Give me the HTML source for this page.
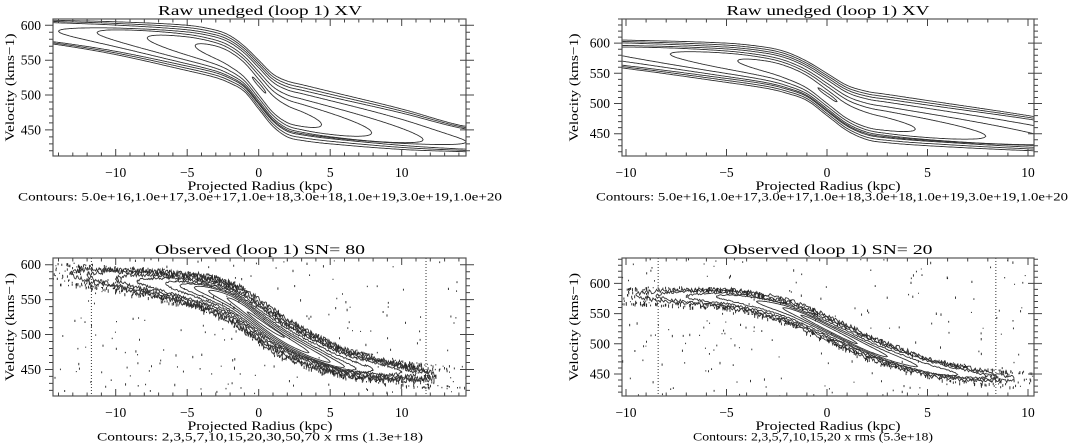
<!DOCTYPE html>
<html><head><meta charset="utf-8"><style>
html,body{margin:0;padding:0;background:#fff;}
svg{display:block;font-family:"Liberation Serif",serif;}
</style></head><body>
<svg id="fig" width="1070" height="443" viewBox="0 0 1070 443" xmlns="http://www.w3.org/2000/svg"></svg>
<script>
// ---- Raw model data (shared by both raw panels) ----
const rawX=[-16,-14,-10,-5,-3,-2,-1,0,1,2,3,5,10,14,16];
const rawV=[592,589.5,581.5,567.5,559,551,537.5,515,492.5,480,475,467.5,451,438,435];
const rawHW=[16,17.5,23.5,32.5,34,34,32.5,35,37.5,40,40,37.5,29,19,17];
const rawLevelF=[1.0,0.9,0.8,0.72,0.6,0.47,0.32,0.07];
const rawTipL=[-99,-99,-99,-14.0,-11.3,-7.8,-4.45,-0.45];
const rawTipR=[99,99,99,14.5,11.5,7.9,4.4,0.5];
const rawShiftL=[0,0,0,2,5,6,5,0];
const rawShiftR=[0,0,0,-4,-10,-12,-12,0];
// ---- Observed SN=80 ----
const obsLX=[-16,-14,-12,-10,-8,-6,-4,-3,-2,-1,0,1,2,3,4,6,8,10,12,14,16];
const obsLV=[590,588,585,580,575,569,561,555,547,535,520,506,494,484,475,460,452,446,441,439,438];
const obsLHW=[14,14,15,17,19,21,24,26,28,30,30,30,28,26,24,20,18,16,15,14,14];
const obsLF=[1,0.88,0.76,0.65,0.55,0.45,0.36,0.27,0.18,0.08];
const obsLTipL=[-13.2,-12,-10,-8.5,-6.5,-5.5,-4.5,-3.5,-2.2,-0.8];
const obsLTipR=[12.4,12,11,10,8,6.8,6,5,3.5,1.8];
const obsLShiftL=[0,0,0,0,2,3,4,4,3,0];
const obsLShiftR=[0,0,0,0,-3,-5,-6,-6,-5,0];
const obsLCut=[-11.7,11.7];
// ---- Observed SN=20 ----
const obsRX=[-11,-10,-9,-8,-7,-6,-5,-4,-3,-2,-1,0,1,2,3,4,5,6,7,8,9,10,11];
const obsRV=[581,580,580,579,578,577,575,570,563,554,541,526,511,496,483,472,462,455,450,446,443,441,440];
const obsRHW=[12,12,13,14,15,15,16,17,18,19,20,20,20,19,18,17,16,15,14,13,12,12,12];
const obsRF=[1,0.85,0.7,0.55,0.4,0.28,0.15];
const obsRTipL=[-9.5,-8.5,-7,-5.5,-3.5,-2.2,-1.3];
const obsRTipR=[9.3,8.5,8,6.5,4.5,3,1.5];
const obsRShiftL=[0,0,0,2,3,3,2];
const obsRShiftR=[0,0,0,-3,-4,-4,-3];
const obsRCut=[-8.4,8.4];
const xTickVals=[-10,-5,0,5,10];
const yTickVals=[450,500,550,600];

const NS="http://www.w3.org/2000/svg";
const svg=document.getElementById('fig');
function mk(tag,attrs,parent){const e=document.createElementNS(NS,tag);for(const k in attrs)e.setAttribute(k,attrs[k]);(parent||svg).appendChild(e);return e;}
let seed=12345;
function rnd(){seed=(seed*1103515245+12345)%2147483648;return seed/2147483648;}
// smooth cubic Hermite interpolation through data points
function interp(xs,vs,x){
  const n=xs.length;
  if(x<=xs[0])return vs[0];
  if(x>=xs[n-1])return vs[n-1];
  let i=1;while(x>xs[i])i++;
  const x0=xs[i-1],x1=xs[i],h=x1-x0,t=(x-x0)/h;
  const sl=k=>{if(k===0)return (vs[1]-vs[0])/(xs[1]-xs[0]);if(k===n-1)return (vs[n-1]-vs[n-2])/(xs[n-1]-xs[n-2]);return (vs[k+1]-vs[k-1])/(xs[k+1]-xs[k-1]);};
  const m0=sl(i-1)*h,m1=sl(i)*h;
  const t2=t*t,t3=t2*t;
  return (2*t3-3*t2+1)*vs[i-1]+(t3-2*t2+t)*m0+(-2*t3+3*t2)*vs[i]+(t3-t2)*m1;
}

function panel(cfg){
  const g=mk('g',{});
  
  
  const sx=x=>cfg.zx+x*cfg.kx;
  const sy=v=>cfg.y1-(v-cfg.vmin)/(cfg.vmax-cfg.vmin)*(cfg.y1-cfg.y0);
  const xmin=(cfg.x0-cfg.zx)/cfg.kx, xmax=(cfg.x1-cfg.zx)/cfg.kx;
  const cid='clip'+cfg.name;
  const cp=mk('clipPath',{id:cid},g);mk('rect',{x:cfg.x0,y:cfg.y0,width:cfg.x1-cfg.x0,height:cfg.y1-cfg.y0},cp);
  const plot=mk('g',{'clip-path':'url(#'+cid+')'},g);
  
  
  const X=cfg.X,V=cfg.V,HW=cfg.HW,jit=cfg.jitter||0;
  for(let i=0;i<cfg.F.length;i++){
    const f=cfg.F[i],tl=cfg.TL[i],tr=cfg.TR[i];
    const jscale=Math.max(0,1-i/(cfg.F.length*0.6));
    const jv=()=>jit?(rnd()-0.5)*jit*jscale:0;
    if(tl<-50){
      const a=Math.max(xmin-0.5,cfg.openL||-99),b=Math.min(xmax+0.5,cfg.openR||99);
      let up=[],lo=[];
      for(let x=a;x<=b;x+=0.08){up.push(sx(x).toFixed(1)+','+sy(interp(X,V,x)+f*interp(X,HW,x)+jv()).toFixed(1));lo.push(sx(x).toFixed(1)+','+sy(interp(X,V,x)-f*interp(X,HW,x)+jv()).toFixed(1));}
      const p1=mk('polyline',{points:up.join(' '),fill:'none',stroke:'#333','stroke-width':0.9},plot);
      
      
      const p2=mk('polyline',{points:lo.join(' '),fill:'none',stroke:'#333','stroke-width':0.9},plot);
      
      
    } else {
      const mid=(tl+tr)/2,half=(tr-tl)/2;let up=[],lo=[];
      const sL=cfg.SL[i],sR=cfg.SR[i];
      const n=Math.max(20,Math.round((tr-tl)/0.06));
      for(let k=0;k<=n;k++){const x=tl+(tr-tl)*k/n;const t=(x-mid)/half;const gg=Math.sqrt(Math.max(0,1-Math.pow(Math.abs(t),3)));
        const c=interp(X,V,x)+sL+(sR-sL)*k/n,w=f*interp(X,HW,x)*gg;
        up.push(sx(x).toFixed(1)+','+sy(c+w+jv()).toFixed(1));lo.unshift(sx(x).toFixed(1)+','+sy(c-w+jv()).toFixed(1));}
      const p=mk('polygon',{points:up.concat(lo).join(' '),fill:'none',stroke:'#333','stroke-width':0.9},plot);
      
      
    }
  }
  if(cfg.noise){
    let d='';
    for(let k=0;k<cfg.bandDots;k++){const x=cfg.openL+(cfg.openR-cfg.openL)*rnd();const c=interp(X,V,x),w=interp(X,HW,x);const s=rnd()<0.5?1:-1;const v=c+s*w*(0.75+rnd()*0.4);d+='M'+sx(x).toFixed(1)+' '+sy(v).toFixed(1)+'v'+(1+rnd()*2.5).toFixed(1);}
    for(let k=0;k<cfg.edgeDots;k++){const x=xmin+(cfg.openL-xmin+1.5)*rnd();const c=interp(X,V,x),w=interp(X,HW,x);const v=c+(rnd()*2-1)*w*1.2;d+='M'+sx(x).toFixed(1)+' '+sy(v).toFixed(1)+'v'+(1+rnd()*2).toFixed(1);}
    for(let k=0;k<cfg.edgeDots;k++){const x=cfg.openR-1.5+(xmax-cfg.openR+1.5)*rnd();const c=interp(X,V,x),w=interp(X,HW,x);const v=c+(rnd()*2-1)*w*1.2;d+='M'+sx(x).toFixed(1)+' '+sy(v).toFixed(1)+'v'+(1+rnd()*2).toFixed(1);}
    for(let k=0;k<cfg.bgDots;k++){const x=cfg.x0+rnd()*(cfg.x1-cfg.x0),y=cfg.y0+rnd()*(cfg.y1-cfg.y0);d+='M'+x.toFixed(1)+' '+y.toFixed(1)+'v'+(1+rnd()*1.5).toFixed(1);}
    const nz=mk('path',{d:d,stroke:'#222','stroke-width':0.9,fill:'none'},plot);
    
    
    for(const cx of cfg.cut){const l=mk('line',{x1:sx(cx),x2:sx(cx),y1:cfg.y0,y2:cfg.y1,stroke:'#333','stroke-width':1,'stroke-dasharray':'1,2'},plot);
      
      }
  }
  const box=mk('rect',{x:cfg.x0,y:cfg.y0,width:cfg.x1-cfg.x0,height:cfg.y1-cfg.y0,fill:'none',stroke:'#555','stroke-width':1.2},g);
  
  
  let td='';
  for(let x=Math.ceil(xmin);x<=xmax;x++){const px=sx(x).toFixed(1);const L=(x%5===0)?7:3.5;td+='M'+px+' '+cfg.y1+'v'+(-L)+'M'+px+' '+cfg.y0+'v'+L;}
  for(let v=Math.ceil(cfg.vmin/10)*10;v<=cfg.vmax;v+=10){const py=sy(v).toFixed(1);const L=(v%50===0)?8:4;td+='M'+cfg.x0+' '+py+'h'+(-L)+'M'+cfg.x1+' '+py+'h'+L;if(v%50===0)td+='M'+cfg.x1+' '+py+'h-6';}
  const tk=mk('path',{d:td,stroke:'#444','stroke-width':1,fill:'none'},g);
  
  
  for(const x of xTickVals){if(x<xmin||x>xmax)continue;const t=mk('text',{x:sx(x),y:cfg.y1+21,'text-anchor':'middle','font-size':13.5},g);t.textContent=(x<0?'\u2212':'')+Math.abs(x);
    
    }
  for(const v of yTickVals){const t=mk('text',{x:cfg.x0-12,y:sy(v)+4.5,'text-anchor':'end','font-size':13.5},g);t.textContent=v;
    
    }
  const tt=mk('text',{x:cfg.tc,y:cfg.y0-4,'text-anchor':'middle','font-size':14,textLength:cfg.tw,lengthAdjust:'spacingAndGlyphs'},g);tt.textContent=cfg.title;
  
  
  const xl=mk('text',{x:cfg.tc,y:cfg.y1+34,'text-anchor':'middle','font-size':13,textLength:145,lengthAdjust:'spacingAndGlyphs'},g);xl.textContent='Projected Radius (kpc)';
  
  
  const cl=mk('text',{x:cfg.cc,y:cfg.y1+44.5,'text-anchor':'middle','font-size':12,textLength:cfg.cw,lengthAdjust:'spacingAndGlyphs'},g);cl.textContent=cfg.contours;
  
  
  const yc=(cfg.y0+cfg.y1)/2;
  const yl=mk('text',{x:0,y:0,transform:'translate('+(cfg.yx)+','+yc+') rotate(-90)','text-anchor':'middle','font-size':13,textLength:108,lengthAdjust:'spacingAndGlyphs'},g);yl.textContent='Velocity (kms\u22121)';
  
  
}
const rawC='Contours: 5.0e+16,1.0e+17,3.0e+17,1.0e+18,3.0e+18,1.0e+19,3.0e+19,1.0e+20';
panel({name:'raw-panel-left',x0:53,y0:19,x1:466,y1:156,zx:258.7,kx:14.3,vmin:412.6,vmax:609,X:rawX,V:rawV,HW:rawHW,F:rawLevelF,TL:rawTipL,TR:rawTipR,SL:rawShiftL,SR:rawShiftR,title:'Raw unedged (loop  1) XV',tc:260,tw:204,cc:260,cw:484,contours:rawC,yx:14});
panel({name:'raw-panel-right',x0:622,y0:19,x1:1034,y1:156,zx:827,kx:20.1,vmin:413,vmax:640,X:rawX,V:rawV,HW:rawHW,F:rawLevelF,TL:rawTipL,TR:rawTipR,SL:rawShiftL,SR:rawShiftR,title:'Raw unedged (loop  1) XV',tc:828,tw:203,cc:832,cw:472,contours:rawC,yx:578});
panel({name:'observed-panel-left',x0:53,y0:258,x1:466,y1:396,zx:258.7,kx:14.3,vmin:412,vmax:609.6,X:obsLX,V:obsLV,HW:obsLHW,F:obsLF,TL:obsLTipL,TR:obsLTipR,SL:obsLShiftL,SR:obsLShiftR,jitter:8,noise:true,openL:-13,openR:12.3,bandDots:450,edgeDots:45,bgDots:200,cut:obsLCut,title:'Observed (loop  1) SN= 80',tc:260,tw:210,cc:260,cw:326,contours:'Contours: 2,3,5,7,10,15,20,30,50,70 x rms (1.3e+18)',yx:14});
panel({name:'observed-panel-right',x0:622,y0:258,x1:1034,y1:396,zx:827,kx:20.1,vmin:413.6,vmax:642,X:obsRX,V:obsRV,HW:obsRHW,F:obsRF,TL:obsRTipL,TR:obsRTipR,SL:obsRShiftL,SR:obsRShiftR,jitter:7,noise:true,openL:-10,openR:9.3,bandDots:380,edgeDots:35,bgDots:200,cut:obsRCut,title:'Observed (loop  1) SN= 20',tc:828,tw:209,cc:813,cw:240,contours:'Contours: 2,3,5,7,10,15,20 x rms (5.3e+18)',yx:578});
</script>
</body></html>
